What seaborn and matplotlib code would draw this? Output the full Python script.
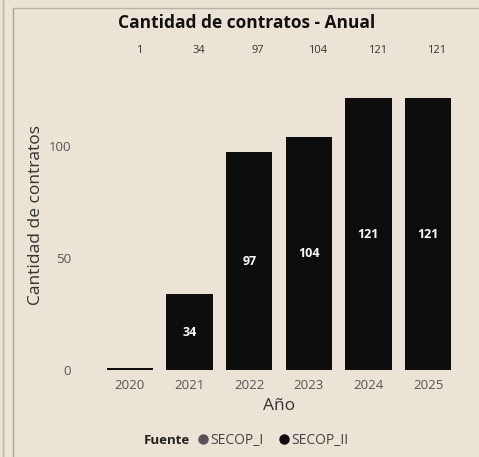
import matplotlib
matplotlib.use("Agg")
import matplotlib.pyplot as plt
import seaborn as sns
import pandas as pd
from matplotlib.lines import Line2D

years = ["2020", "2021", "2022", "2023", "2024", "2025"]
contratos = [1, 34, 97, 104, 121, 121]
totales = [1, 34, 97, 104, 121, 121]
fuentes = ["SECOP_I", "SECOP_II"]
fuente_colors = ["#555555", "#0d0d0d"]

bg = "#ebe4d6"
sns.set_theme(style="white")
plt.rcParams["font.family"] = ["Open Sans", "DejaVu Sans"]

df = pd.DataFrame({"Año": years, "Cantidad de contratos": contratos})

fig = plt.figure(figsize=(4.79, 4.57), dpi=100, facecolor=bg)
ax = fig.add_axes([0.209, 0.19, 0.747, 0.678])
ax.set_facecolor(bg)

sns.barplot(data=df, x="Año", y="Cantidad de contratos", color=fuente_colors[1],
            saturation=1, width=0.78, ax=ax, edgecolor="none")

ax.set_xlim(-0.5, 5.5)
ax.set_ylim(0, 138)
ax.set_yticks([0, 50, 100])
for s in ax.spines.values():
    s.set_visible(False)
ax.tick_params(axis="both", length=0, colors="#555555", labelsize=9.5)
ax.tick_params(axis="y", pad=21)
ax.tick_params(axis="x", pad=6)
ax.set_xlabel("Año", fontsize=12.5, color="#333333", labelpad=5)
ax.set_ylabel("Cantidad de contratos", fontsize=12.5, color="#333333", labelpad=3)

# values inside bars
for i, v in enumerate(contratos):
    if v >= 20:
        ax.text(i, v / 2, str(v), ha="center", va="center", color="white",
                fontsize=9, fontweight="bold")
# totals above
for i, v in enumerate(totales):
    ax.text(i + 0.15, 1.032, str(v), transform=ax.get_xaxis_transform(),
            ha="center", va="center", color="#333333", fontsize=8)

fig.text(0.515, 0.950, "Cantidad de contratos - Anual", ha="center", va="center",
         fontsize=12.5, fontweight="bold", color="#111111")

# legend
fig.text(0.397, 0.037, "Fuente", ha="right", va="center", fontsize=9.5,
         fontweight="bold", color="#222222")
handles = [Line2D([0], [0], marker="o", linestyle="none", markersize=6.5,
                  markerfacecolor=c, markeredgecolor=c) for c in fuente_colors]
leg = fig.legend(handles, fuentes, loc="center left", bbox_to_anchor=(0.398, 0.037),
                 ncol=2, frameon=False, fontsize=10, handletextpad=0.0,
                 columnspacing=1.0, handlelength=1.0, borderaxespad=0)
for t in leg.get_texts():
    t.set_color("#444444")

# frame lines of the page
fig.add_artist(Line2D([3 / 479, 3 / 479], [0, 1], color="#b8b2a6", lw=1, transform=fig.transFigure))
fig.add_artist(Line2D([13 / 479, 13 / 479], [0, 1 - 8 / 457], color="#a8a296", lw=1, transform=fig.transFigure))
fig.add_artist(Line2D([13 / 479, 1], [1 - 8 / 457, 1 - 8 / 457], color="#b8b2a6", lw=1, transform=fig.transFigure))

fig.savefig("out.png", dpi=100, facecolor=bg)
